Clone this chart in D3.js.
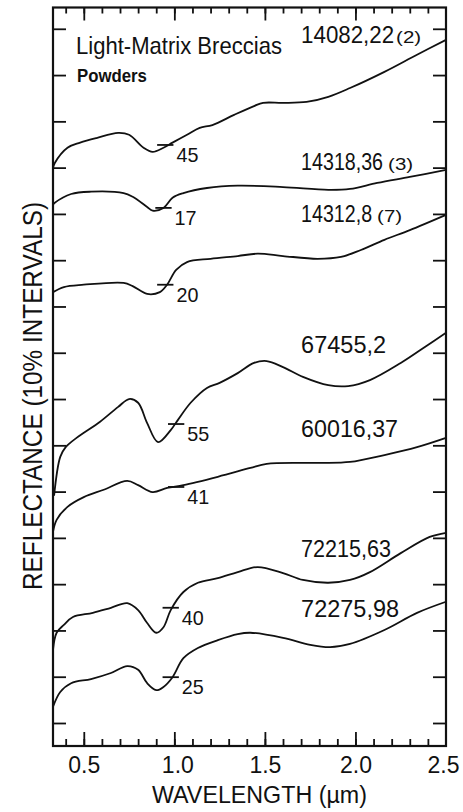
<!DOCTYPE html>
<html>
<head>
<meta charset="utf-8">
<script src="https://cdn.jsdelivr.net/npm/d3@7"></script>
<style>
  body { margin: 0; background: #fff; }
  text { font-family: "Liberation Sans", Arial, sans-serif; fill: #111; }
</style>
</head>
<body>
<div id="chart"></div>
<script>
// spectra, wavelength (um) vs offset reflectance (%)
var s14082 = [[0.33,119.9],[0.34,121.0],[0.41,124.3],[0.48,125.4],[0.57,126.4],[0.69,127.5],[0.75,127.1],
  [0.83,124.3],[0.88,123.4],[0.94,124.3],[0.99,125.4],[1.07,127.1],[1.14,128.6],[1.21,129.2],[1.33,131.4],
  [1.44,133.3],[1.49,134.0],[1.60,134.0],[1.73,134.2],[1.85,135.3],[1.97,137.2],[2.16,140.7],[2.34,144.4],[2.50,147.6]];
var s14318 = [[0.33,112.0],[0.34,112.4],[0.43,114.3],[0.54,114.8],[0.72,114.5],[0.77,113.7],[0.85,111.5],
  [0.88,110.7],[0.94,111.3],[0.99,113.5],[1.05,114.5],[1.18,115.6],[1.35,116.1],[1.60,115.8],[1.85,115.2],
  [1.97,115.4],[2.12,116.7],[2.30,118.0],[2.50,119.5]];
var s14312 = [[0.33,93.1],[0.39,94.2],[0.50,94.7],[0.72,95.1],[0.77,94.4],[0.85,92.7],[0.92,93.1],[0.96,94.7],
  [1.01,97.9],[1.07,99.6],[1.20,100.3],[1.35,100.9],[1.46,101.4],[1.60,100.9],[1.79,100.3],[1.92,100.7],
  [2.03,102.2],[2.16,104.4],[2.30,106.5],[2.50,109.8]];
var s67455 = [[0.336,49.1],[0.37,57.5],[0.40,59.6],[0.46,61.6],[0.59,65.1],[0.69,68.3],[0.75,70.0],[0.80,69.2],
  [0.85,64.8],[0.91,60.7],[0.98,63.3],[1.02,65.5],[1.09,69.2],[1.18,72.4],[1.25,73.5],[1.35,75.6],[1.44,77.8],
  [1.51,78.2],[1.60,76.9],[1.71,74.8],[1.85,73.0],[1.96,72.8],[2.08,74.1],[2.25,77.8],[2.40,81.7],[2.50,84.3]];
var s60016 = [[0.33,41.3],[0.35,43.9],[0.41,46.7],[0.50,48.8],[0.61,50.4],[0.74,52.3],[0.80,51.4],[0.88,49.9],
  [0.96,50.8],[1.05,51.4],[1.24,53.2],[1.42,55.1],[1.51,56.0],[1.79,56.2],[1.97,56.4],[2.16,57.9],[2.34,59.6],[2.50,61.6]];
var s72215 = [[0.33,15.8],[0.35,19.5],[0.39,21.2],[0.44,22.9],[0.55,23.8],[0.65,24.9],[0.74,25.9],[0.80,24.4],
  [0.85,21.6],[0.90,19.5],[0.94,20.7],[0.98,24.4],[1.05,28.3],[1.13,30.3],[1.24,31.3],[1.35,32.6],[1.46,33.7],
  [1.60,32.4],[1.71,30.9],[1.85,30.3],[1.97,30.9],[2.08,32.6],[2.25,36.7],[2.41,40.2],[2.50,41.1]];
var s72275 = [[0.33,3.5],[0.37,6.7],[0.43,8.6],[0.54,9.5],[0.65,10.8],[0.74,12.3],[0.80,11.5],[0.85,8.6],
  [0.90,7.1],[0.94,7.8],[0.99,9.9],[1.05,14.0],[1.13,16.2],[1.24,17.9],[1.35,19.2],[1.42,19.5],[1.60,18.4],
  [1.75,16.9],[1.86,16.4],[1.97,17.1],[2.16,20.1],[2.34,23.8],[2.50,26.2]];

var spectra = [s14082, s14318, s14312, s67455, s60016, s72215, s72275];
var samples = ["14082,22", "14318,36", "14312,8", "67455,2", "60016,37", "72215,63", "72275,98"];
var sampleNotes = ["(2)", "(3)", "(7)", "", "", "", ""];
// absolute reflectance marked near 1 um on each curve
var refValues = [45, 17, 20, 55, 41, 40, 25];
var refWave = [0.95, 0.94, 0.95, 1.01, 1.01, 0.98, 0.98];
var refLevel = [124.9, 111.3, 94.7, 64.6, 51.0, 24.9, 9.9];

var xTicksMajor = [0.5, 1.0, 1.5, 2.0, 2.5];
var xTicksMinor = d3.range(4, 25).map(function(d) { return d / 10; });
var yTicks = d3.range(0, 151, 10);

// layout (not data)
var labelLevel = [147.0, 119.5, 108.3, 80.0, 61.8, 35.9, 22.9];
var labelWidth = [93, 82, 71, 85, 97, 90, 98];
var noteGap = [2, 5, 5];

var W = 463, H = 812;
var svg = d3.select("#chart").append("svg")
  .attr("width", W).attr("height", H);

var x = d3.scaleLinear().domain([0.33, 2.5]).range([53, 446]);
var y = d3.scaleLinear().domain([-4.97, 154.6]).range([746, 7.5]);

// squeeze a text horizontally to a given width
function fit(node, px, py, width) {
  var w = node.getComputedTextLength();
  d3.select(node).attr("transform", "translate(" + px + "," + py + ") scale(" + (width / w) + ",1)");
}

// --
function styleAxis(g) {
  g.select(".domain").remove();
  g.selectAll(".tick text").remove();
  g.selectAll(".tick line").attr("stroke", "#111").attr("stroke-width", 1.8);
}

svg.append("g")
   .attr("transform", "translate(0," + y.range()[0] + ")")
   .call(d3.axisBottom(x).tickValues(xTicksMinor).tickSizeInner(-7))
   .call(styleAxis);
svg.append("g")
   .attr("transform", "translate(0," + y.range()[0] + ")")
   .call(d3.axisBottom(x).tickValues(xTicksMajor.filter(function(d) { return d < 2.5; })).tickSizeInner(-14))
   .call(styleAxis);

var xlab = svg.append("g")
   .attr("transform", "translate(0," + y.range()[0] + ")")
   .call(d3.axisBottom(x).tickValues(xTicksMajor).tickSize(0).tickPadding(11).tickFormat(d3.format(".1f")));
xlab.select(".domain").remove();
xlab.selectAll("text")
   .attr("font-size", 23)
   .attr("font-family", "Liberation Sans, Arial, sans-serif")
   .attr("fill", "#111");
xlab.selectAll(".tick")
   .filter(function(d) { return d == 2.5; })
   .select("text").attr("dx", -3);
xlab.selectAll(".tick")
   .filter(function(d) { return d == 1.0; })
   .select("text").attr("dx", 3);

svg.append("g")
   .attr("transform", "translate(0," + y.range()[1] + ")")
   .call(d3.axisTop(x).tickValues(xTicksMinor).tickSizeInner(-6))
   .call(styleAxis);
svg.append("g")
   .attr("transform", "translate(0," + y.range()[1] + ")")
   .call(d3.axisTop(x).tickValues(xTicksMajor.filter(function(d) { return d < 2.5; })).tickSizeInner(-13))
   .call(styleAxis);

svg.append("g")
   .attr("transform", "translate(" + x.range()[0] + ",0)")
   .call(d3.axisLeft(y).tickValues(yTicks).tickSizeInner(-13))
   .call(styleAxis);
svg.append("g")
   .attr("transform", "translate(" + x.range()[1] + ",0)")
   .call(d3.axisRight(y).tickValues(yTicks).tickSizeInner(-13))
   .call(styleAxis);

// frame
svg.append("rect")
   .attr("x", x.range()[0]).attr("y", y.range()[1])
   .attr("width", x.range()[1] - x.range()[0])
   .attr("height", y.range()[0] - y.range()[1])
   .attr("fill", "none").attr("stroke", "#111").attr("stroke-width", 2.2);

// --
var line = d3.line()
  .x(function(d) { return x(d[0]); })
  .y(function(d) { return y(d[1]); })
  .curve(d3.curveCatmullRom.alpha(0.5));

svg.selectAll("path.spectrum")
   .data(spectra)
   .enter()
   .append("path")
   .attr("class", "spectrum")
   .attr("d", line)
   .attr("fill", "none")
   .attr("stroke", "#111")
   .attr("stroke-width", 1.8)
   .attr("stroke-linejoin", "round");

// reflectance marks
svg.selectAll("line.ref")
   .data(refValues)
   .enter()
   .append("line")
   .attr("class", "ref")
   .attr("x1", function(d, i) { return x(refWave[i] - 0.045); })
   .attr("x2", function(d, i) { return x(refWave[i] + 0.045); })
   .attr("y1", function(d, i) { return y(refLevel[i]); })
   .attr("y2", function(d, i) { return y(refLevel[i]); })
   .attr("stroke", "#111")
   .attr("stroke-width", 1.8);

svg.selectAll("text.ref")
   .data(refValues)
   .enter()
   .append("text")
   .attr("class", "ref")
   .attr("font-size", 20)
   .text(function(d) { return d; })
   .each(function(d, i) { fit(this, x(refWave[i] + 0.045) + 3, y(refLevel[i]) + 17, 22); });

// sample names
svg.selectAll("text.sample")
   .data(samples)
   .enter()
   .append("text")
   .attr("class", "sample")
   .attr("font-size", 23)
   .text(function(d) { return d; })
   .each(function(d, i) { fit(this, x(1.70), y(labelLevel[i]), labelWidth[i]); });

svg.selectAll("text.note")
   .data(sampleNotes.filter(function(d) { return d != ""; }))
   .enter()
   .append("text")
   .attr("class", "note")
   .attr("font-size", 17)
   .text(function(d) { return d; })
   .each(function(d, i) { fit(this, x(1.70) + labelWidth[i] + noteGap[i], y(labelLevel[i]), 25); });

// title
svg.append("text")
   .attr("font-size", 24)
   .text("Light-Matrix Breccias")
   .each(function() { fit(this, 76, 54, 206); });
svg.append("text")
   .attr("font-size", 18)
   .attr("font-weight", "bold")
   .text("Powders")
   .each(function() { fit(this, 77, 82, 70); });

// axis titles
svg.append("text")
   .attr("font-size", 24)
   .text("WAVELENGTH (\u00b5m)")
   .each(function() { fit(this, 152, 803, 215); });
svg.append("text")
   .attr("transform", "translate(42,396) rotate(-90)")
   .attr("text-anchor", "middle")
   .attr("font-size", 27)
   .attr("textLength", 388)
   .attr("lengthAdjust", "spacingAndGlyphs")
   .text("REFLECTANCE (10% INTERVALS)");
</script>
</body>
</html>
